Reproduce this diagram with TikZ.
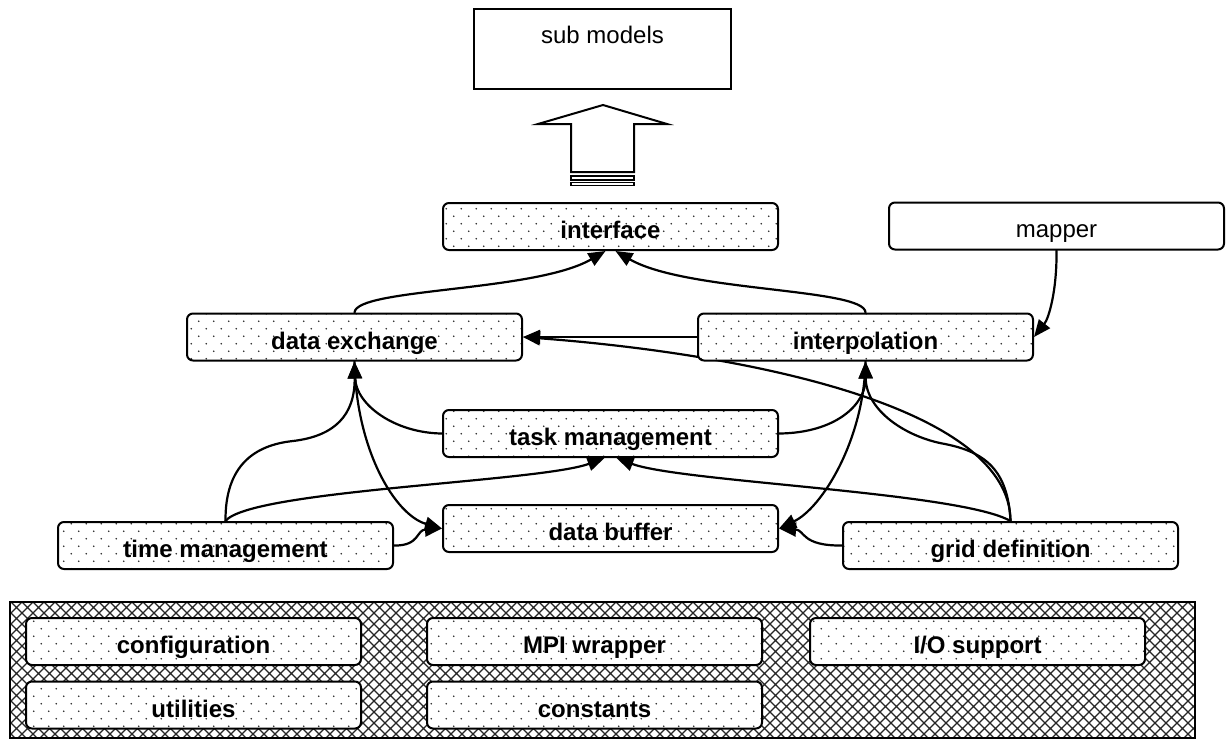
\documentclass[tikz,border=0pt]{standalone}
\usepackage{fontspec}
\setmainfont{Liberation Sans}
\usetikzlibrary{arrows.meta,patterns,backgrounds}
\pgfdeclarepatternformonly{sdots}{\pgfqpoint{-1pt}{-1pt}}{\pgfqpoint{16pt}{16pt}}{\pgfqpoint{15pt}{15pt}}{%
  \pgfpathcircle{\pgfqpoint{3.75pt}{3.75pt}}{0.95pt}%
  \pgfpathcircle{\pgfqpoint{11.25pt}{11.25pt}}{0.95pt}%
  \pgfusepath{fill}}
\pgfdeclarepatternformonly{xhatch}{\pgfqpoint{-1pt}{-1pt}}{\pgfqpoint{12pt}{12pt}}{\pgfqpoint{11pt}{11pt}}{%
  \pgfsetlinewidth{1.1pt}%
  \pgfpathmoveto{\pgfqpoint{-0.5pt}{-0.5pt}}\pgfpathlineto{\pgfqpoint{11.5pt}{11.5pt}}%
  \pgfpathmoveto{\pgfqpoint{-0.5pt}{11.5pt}}\pgfpathlineto{\pgfqpoint{11.5pt}{-0.5pt}}%
  \pgfusepath{stroke}}
\begin{document}
\begin{tikzpicture}[x=1pt,y=-1pt,
  dotbox/.style={draw, line width=2pt, rounded corners=6pt,
    minimum width=335pt, minimum height=47pt, inner sep=0pt,
    preaction={fill=white}, pattern=sdots, pattern color=black!85,
    font=\fontsize{24}{28}\selectfont\bfseries, text height=29pt, text depth=5pt},
  plainbox/.style={draw, line width=2pt, rounded corners=6pt, fill=white,
    minimum width=335pt, minimum height=47pt, inner sep=0pt,
    font=\fontsize{24}{28}\selectfont, text height=27pt, text depth=5pt},
  subbox/.style={draw, line width=2pt, fill=white, minimum width=257pt, inner sep=0pt,
    font=\fontsize{24}{28}\selectfont, text height=34pt, text depth=46pt},
  hatchbox/.style={draw, line width=1.6pt, preaction={fill=white}, pattern=xhatch, pattern color=black!85},
  arr/.style={line width=2.2pt, line cap=round, -{Triangle[length=17pt,width=14pt]}},
  blockarrow/.style={draw, line width=2pt, fill=white, line join=miter}
]
\useasboundingbox (0,0) rectangle (1230,745);

% top: sub models and block arrow
\node[subbox] (sub) at (602.5,49) {sub models};
\draw[blockarrow] (571,172) -- (571,124) -- (538,124) -- (603,105) -- (667,124) -- (634,124) -- (634,172) -- cycle;
\draw[line width=1.4pt] (571,176) rectangle (634,180);
\draw[line width=1.4pt] (571,182.5) rectangle (634,185.5);

% nodes
\node[dotbox] (iface) at (610.5,226.5) {interface};
\node[plainbox] (mapper) at (1056.5,226) {mapper};
\node[dotbox] (dx) at (354.5,337) {data exchange};
\node[dotbox] (interp) at (865.5,337) {interpolation};
\node[dotbox] (task) at (610.5,433.5) {task management};
\node[dotbox] (buffer) at (610.5,528.5) {data buffer};
\node[dotbox] (time) at (225.5,545.5) {time management};
\node[dotbox] (grid) at (1010.5,545.5) {grid definition};

\node[dotbox] (config) at (193.5,641.5) {configuration};
\node[dotbox] (util) at (193.5,705) {utilities};
\node[dotbox] (mpi) at (594.5,641.5) {MPI wrapper};
\node[dotbox] (const) at (594.5,705) {constants};
\node[dotbox] (io) at (977.5,641.5) {I/O support};

\begin{pgfonlayer}{background}
% base layer
\draw[hatchbox] (10,602) rectangle (1195,738);
% connectors
\draw[arr] (dx.north) .. controls (356,288) and (535,292) .. ([xshift=-5pt]iface.south);
\draw[arr] (interp.north) .. controls (865,288) and (686,292) .. ([xshift=5pt]iface.south);
\draw[arr] (mapper.south) .. controls (1057,290) and (1049,318) .. (interp.east);
\draw[arr] (interp.west) -- (dx.east);
\draw[arr] (grid.north) .. controls (1010,410) and (760,355) .. (dx.east);
\draw[arr] (grid.north) .. controls (1008,470) and (985,452) .. (945,444) .. controls (905,437) and (866,410) .. (interp.south);
\draw[arr] (task.east) .. controls (835,433) and (866,405) .. (interp.south);
\draw[arr] (interp.south) .. controls (864,440) and (822,508) .. (buffer.east);
\draw[arr] (time.north) .. controls (225,465) and (255,445) .. (293,441) .. controls (335,436) and (355,415) .. (dx.south);
\draw[arr] (time.north) .. controls (250,490) and (540,482) .. ([xshift=-6pt]task.south);
\draw[arr] (grid.north) .. controls (960,492) and (680,482) .. ([xshift=6pt]task.south);
\draw[arr] (task.west) .. controls (395,433) and (356,405) .. (dx.south);
\draw[arr] (dx.south) .. controls (356,450) and (395,515) .. (buffer.west);
\draw[arr] (time.east) .. controls (420,546) and (416,530) .. (buffer.west);
\draw[arr] (grid.west) .. controls (801,546) and (805,530) .. (buffer.east);
\end{pgfonlayer}
\end{tikzpicture}
\end{document}
